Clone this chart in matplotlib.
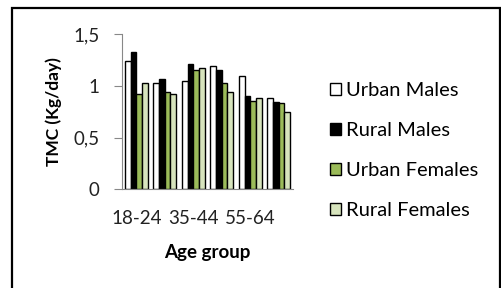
import matplotlib
matplotlib.use("Agg")
import matplotlib.pyplot as plt
import matplotlib.patches as mpatches
import numpy as np

categories = ["18-24", "25-34", "35-44", "45-54", "55-64", "65+"]
shown_labels = ["18-24", "", "35-44", "", "55-64", ""]
series_names = ["Urban Males", "Rural Males", "Urban Females", "Rural Females"]
urban_males = [1.24, 1.03, 1.05, 1.19, 1.09, 0.88]
rural_males = [1.33, 1.07, 1.21, 1.15, 0.90, 0.84]
urban_females = [0.92, 0.94, 1.15, 1.03, 0.85, 0.83]
rural_females = [1.03, 0.92, 1.17, 0.94, 0.88, 0.75]
colors = ["#FFFFFF", "#000000", "#9BBB59", "#D7E4BD"]

plt.rcParams['font.family'] = ['Lato', 'DejaVu Sans']

W, H = 502, 288
fig = plt.figure(figsize=(W / 100, H / 100), dpi=100)

# border
fig.patches.append(mpatches.Rectangle((12 / W, -0.1), (500 - 12) / W, (288 - 8) / H + 0.1,
                                      transform=fig.transFigure, fill=False,
                                      edgecolor="black", linewidth=1.6))

ax = fig.add_axes([122 / W, (288 - 189.3) / H, 171 / W, (189.3 - 34) / H])
x = np.arange(len(categories))
width = 0.2
data = [urban_males, rural_males, urban_females, rural_females]
for i, (vals, name, c) in enumerate(zip(data, series_names, colors)):
    ax.bar(x + (i - 1.5) * width, vals, width, color=c, edgecolor="black",
           linewidth=1.0, label=name)

ax.set_xlim(-0.5, len(categories) - 0.5)
ax.set_ylim(0, 1.5)
ax.set_yticks([0, 0.5, 1, 1.5])
ax.set_yticklabels(["0", "0,5", "1", "1,5"])
ax.set_xticks(x)
ax.set_xticklabels(shown_labels)
for s in ["top", "right"]:
    ax.spines[s].set_visible(False)
ax.spines["left"].set_color("#888888")
ax.spines["bottom"].set_color("#888888")
ax.tick_params(axis="y", length=6, color="#888888", pad=10, labelsize=13.5, labelcolor="#222222")
ax.tick_params(axis="x", length=0, pad=15, labelsize=13.5, labelcolor="#222222")
ax.set_ylabel("TMC (Kg/day)", fontsize=12.5, fontweight="bold", labelpad=8)
ax.set_xlabel("Age group", fontsize=13.5, fontweight="bold", labelpad=12)

fig.legend(loc="upper left", bbox_to_anchor=(330 / W, 1 - 82 / H), frameon=False,
           fontsize=14.5, handlelength=0.55, handleheight=0.55, handletextpad=0.25,
           labelspacing=1.15, borderpad=0, borderaxespad=0)

fig.savefig("out.png", dpi=100)
